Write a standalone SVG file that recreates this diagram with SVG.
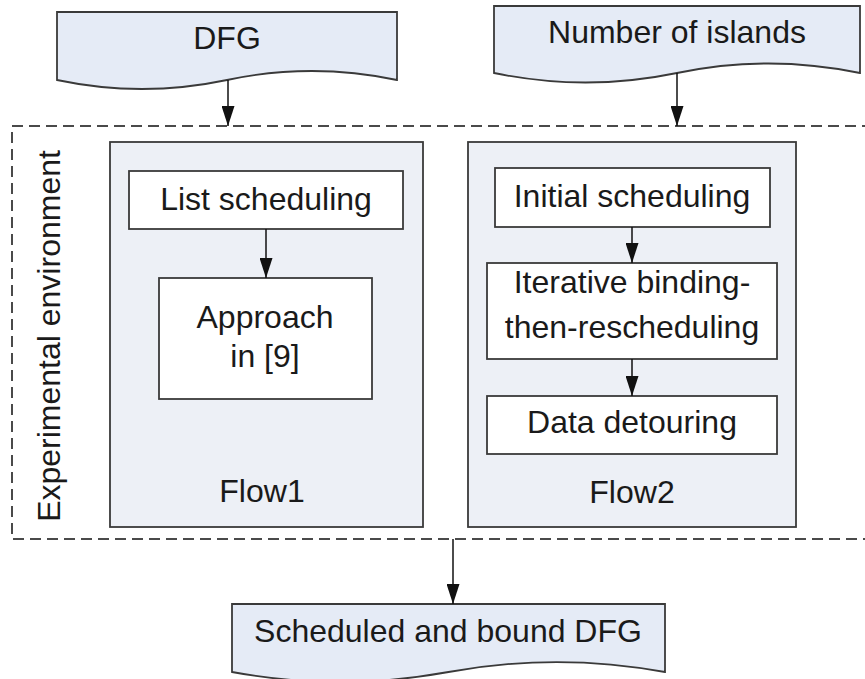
<svg xmlns="http://www.w3.org/2000/svg" width="865" height="679" viewBox="0 0 865 679">
<style>
text{font-family:"Liberation Sans",Arial,sans-serif;font-size:32px;fill:#1a1a1a;text-anchor:middle}
.doc{fill:#e5ebf6;stroke:#3a3a3a;stroke-width:1.8}
.flow{fill:#edf0f6;stroke:#3a3a3a;stroke-width:1.8}
.box{fill:#fff;stroke:#3a3a3a;stroke-width:1.8}
.env{fill:none;stroke:#4a4a4a;stroke-width:2;stroke-dasharray:11 6}
.conn{stroke:#111;stroke-width:1.5;fill:none;marker-end:url(#arr)}
</style>
<defs>
<marker id="arr" viewBox="0 0 20 13" refX="20" refY="6.5" markerWidth="20" markerHeight="13" markerUnits="userSpaceOnUse" orient="auto">
<path d="M0,0 L20,6.5 L0,13 Z" fill="#111"/>
</marker>
</defs>
<g id="env">
<rect class="env" x="12" y="126" width="862" height="413"/>
<text transform="translate(60,336) rotate(-90)">Experimental environment</text>
</g>
<g id="dfg">
<path class="doc" d="M57,12 H397 V80 C340.3,68 283.7,68 227,80 C170.3,92 113.7,92 57,80 Z"/>
<text x="227" y="49">DFG</text>
</g>
<g id="islands">
<path class="doc" d="M494,6 H860 V73 C799,60.3 738,60.3 677,73 C616,85.7 555,85.7 494,73 Z"/>
<text x="677" y="43">Number of islands</text>
</g>
<g id="flow1">
<rect class="flow" x="110" y="142" width="313" height="385"/>
<text x="262" y="502">Flow1</text>
</g>
<g id="flow2">
<rect class="flow" x="468" y="142" width="328" height="385"/>
<text x="632" y="503">Flow2</text>
</g>
<g id="list">
<rect class="box" x="129" y="171" width="274" height="58"/>
<text x="266" y="210">List scheduling</text>
</g>
<g id="approach">
<rect class="box" x="159" y="278" width="213" height="121"/>
<text x="265" y="328">Approach</text>
<text x="265" y="367">in [9]</text>
</g>
<g id="initial">
<rect class="box" x="495" y="168" width="275" height="59"/>
<text x="632" y="207">Initial scheduling</text>
</g>
<g id="iterative">
<rect class="box" x="487" y="263" width="290" height="96"/>
<text x="632" y="293">Iterative binding-</text>
<text x="632" y="338">then-rescheduling</text>
</g>
<g id="detour">
<rect class="box" x="487" y="396" width="290" height="58"/>
<text x="632" y="433">Data detouring</text>
</g>
<g id="output">
<path class="doc" d="M232,604 H665 V672 C592.8,658.7 520.7,658.7 448.5,672 C376.3,685.3 304.2,685.3 232,672 Z"/>
<text x="448" y="642">Scheduled and bound DFG</text>
</g>
<g id="connectors">
<line class="conn" x1="228" y1="80" x2="228" y2="126"/>
<line class="conn" x1="677" y1="73" x2="677" y2="126"/>
<line class="conn" x1="266" y1="229" x2="266" y2="278"/>
<line class="conn" x1="632" y1="227" x2="632" y2="263"/>
<line class="conn" x1="632" y1="359" x2="632" y2="396"/>
<line class="conn" x1="453" y1="539" x2="453" y2="604"/>
</g>
</svg>
